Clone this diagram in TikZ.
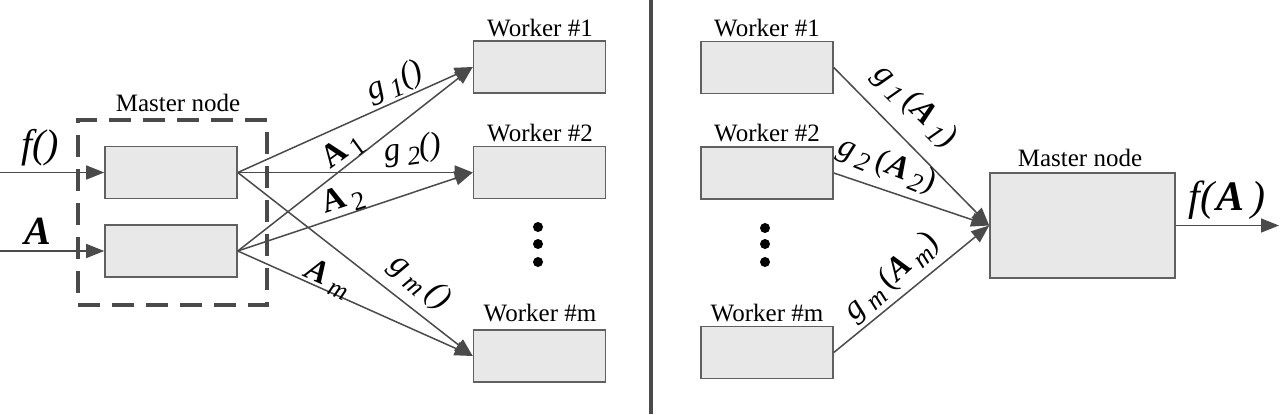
\documentclass[tikz,border=0pt]{standalone}
\usepackage{fontspec}
\setmainfont{Liberation Serif}
\usetikzlibrary{arrows.meta}
\definecolor{boxfill}{HTML}{E8E8E8}
\definecolor{boxline}{HTML}{606060}
\definecolor{lnc}{HTML}{4A4A4A}
\newcommand{\mysub}[1]{\raisebox{-0.45ex}{\scalebox{0.8}{#1}}}
\newcommand{\gi}[1]{\textit{g}\,\mysub{\textit{#1}}}
\newcommand{\bA}{\textbf{\textit{A}}}
\begin{document}
\begin{tikzpicture}[x=0.5pt,y=-0.5pt,
  box/.style={draw=boxline,fill=boxfill,line width=0.8pt,inner sep=0pt,minimum width=66pt,minimum height=26pt},
  lbl/.style={font=\fontsize{12.5}{14}\selectfont,inner sep=0pt},
  elbl/.style={font=\fontsize{16.5}{18}\selectfont,inner sep=0pt},
  conn/.style={draw=lnc,line width=0.75pt},
  arr/.style={conn,-{Triangle[length=9pt,width=7pt]}, lnc},
  dotc/.style={circle,fill=black,inner sep=0pt,minimum size=5pt}]
\useasboundingbox (0,0) rectangle (1280,414);
% ---------- left ----------
\node[draw=lnc,line width=2pt,dash pattern=on 11pt off 6pt,minimum width=94.5pt,minimum height=92.5pt,inner sep=0pt] (mbox) at (172.5,212.5) {};
\node[lbl] (mlbl) at (178,103) {Master node};
\node[box] (top) at (171,172.5) {};
\node[box] (bot) at (171,251) {};
\node[box] (w1) at (539.5,67) {};
\node[box] (w2) at (539.5,172.5) {};
\node[box] (wm) at (539.5,356) {};
\node[lbl] (w1l) at (540,28) {Worker \#1};
\node[lbl] (w2l) at (540,133) {Worker \#2};
\node[lbl] (wml) at (540,313) {Worker \#m};
\node[dotc] (d1) at (538,227) {};
\node[dotc] (d2) at (538,244) {};
\node[dotc] (d3) at (538,262) {};
\coordinate (fin) at (0,172.5);
\coordinate (ain) at (0,251);
\draw[arr] (fin) -- (top.west);
\draw[arr] (ain) -- (bot.west);
\node[font=\fontsize{20}{22}\selectfont,inner sep=0pt] (fl) at (40,148) {\textit{f()}};
\node[font=\fontsize{20}{22}\selectfont,inner sep=0pt] (al) at (38,231) {\bA};
\draw[arr] (top.east) -- (w1.west);
\draw[arr] (top.east) -- (w2.west);
\draw[arr] (top.east) -- (wm.west);
\draw[arr] (bot.east) -- (w1.west);
\draw[arr] (bot.east) -- (w2.west);
\draw[arr] (bot.east) -- (wm.west);
\node[elbl,rotate=22] (g1) at (395,82) {\gi{1}\textit{()}};
\node[elbl,rotate=36] (a1) at (343,151) {\textbf{A}\,\mysub{1}};
\node[elbl,rotate=8] (g2) at (413,150) {\gi{2}\textit{()}};
\node[elbl,rotate=18] (a2) at (343,200) {\textbf{A}\,\mysub{2}};
\node[elbl,rotate=-24] (am) at (328,279) {\bA\,\mysub{\textit{m}}};
\node[elbl,rotate=-40] (gm) at (420,282) {\gi{m}\,\textit{()}};
% ---------- divider ----------
\coordinate (dvt) at (651,0);
\coordinate (dvb) at (651,414);
\draw[draw=lnc,line width=2pt] (dvt) -- (dvb);
% ---------- right ----------
\node[box] (r1) at (767,67.5) {};
\node[box] (r2) at (767,173) {};
\node[box] (rm) at (767,352.5) {};
\node[lbl] (r1l) at (767,28) {Worker \#1};
\node[lbl] (r2l) at (767,133) {Worker \#2};
\node[lbl] (rml) at (767,313) {Worker \#m};
\node[dotc] (e1) at (765,228) {};
\node[dotc] (e2) at (765,244) {};
\node[dotc] (e3) at (765,262) {};
\node[box,minimum width=92.5pt,minimum height=52.5pt] (mst) at (1082.5,225.5) {};
\node[lbl] (mstl) at (1080,158) {Master node};
\draw[arr] (r1.east) -- (mst.west);
\draw[arr] (r2.east) -- (mst.west);
\draw[arr] (rm.east) -- (mst.west);
\coordinate (fout) at (1279,225.5);
\draw[arr] (mst.east) -- (fout);
\node[elbl,rotate=-45] (h1) at (915,106) {\gi{1}\,(\bA\,\mysub{\textit{1}})};
\node[elbl,rotate=-22] (h2) at (887,165) {\gi{2}\,(\bA\,\mysub{\textit{2}})};
\node[elbl,rotate=42] (hm) at (892,277) {\gi{m}\,(\bA\,\mysub{\textit{m}})};
\node[font=\fontsize{21}{23}\selectfont,inner sep=0pt] (fa) at (1227,200) {\textit{f(}\bA\,\textit{)}};
\end{tikzpicture}
\end{document}
